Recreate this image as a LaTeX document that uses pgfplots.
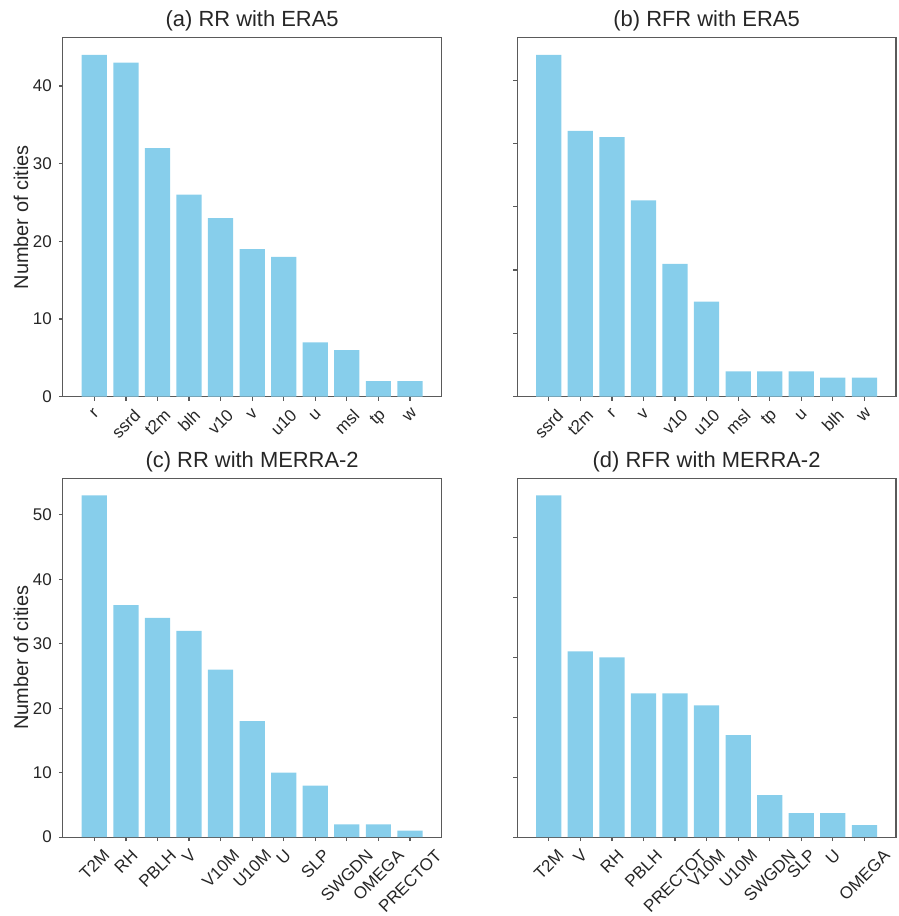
\documentclass[border=0pt]{standalone}
\usepackage{fontspec}
\setmainfont{Liberation Sans}
\usepackage{pgfplots}
\pgfplotsset{compat=1.18}
\definecolor{sky}{RGB}{135,206,235}
\definecolor{spine}{RGB}{90,90,90}
\newcommand{\rl}[1]{\rotatebox{45}{#1}}
\pgfplotsset{
 every axis title shift=0pt,
 panel/.style={
  width=190pt,height=180pt,scale only axis,
  anchor=south west,
  ybar, bar width=0.8,
  xmin=-1,xmax=11, ymin=0,
  xtick={0,...,10},
  ytick={0,10,...,50},
  axis line style={spine, line width=0.6pt},
  tick style={spine, line width=0.6pt},
  tick align=outside, major tick length=2pt,
  xtick pos=left, ytick pos=left,
  tick label style={font=\fontsize{8.5}{10}\selectfont, text=black!85},
  /pgf/number format/assume math mode=true,
  xticklabel style={anchor=north, inner sep=1pt, yshift=-2.5pt},
  title style={font=\fontsize{11}{13}\selectfont, text=black!85, inner sep=0pt, yshift=3pt},
  ylabel style={font=\fontsize{10}{12}\selectfont, text=black!85, at={(axis description cs:-0.1105,0.5)}, anchor=center},
 },
 bars/.style={fill=sky, draw=none, bar shift=0pt}
}
\begin{document}
\begin{tikzpicture}
\path (0,0) rectangle (451pt,458pt);
% (a)
\begin{axis}[panel, at={(31.5pt,259pt)}, ymax=46.2,
  title={(a) RR with ERA5}, ylabel={Number of cities},
  xticklabels={\rl{r},\rl{ssrd},\rl{t2m},\rl{blh},\rl{v10},\rl{v},\rl{u10},\rl{u},\rl{msl},\rl{tp},\rl{w}}]
\addplot[bars] coordinates {(0,44) (1,43) (2,32) (3,26) (4,23) (5,19) (6,18) (7,7) (8,6) (9,2) (10,2)};
\end{axis}
% (b)
\begin{axis}[panel, at={(259.5pt,259pt)}, ymax=56.7,
  title={(b) RFR with ERA5}, yticklabels={},
  xticklabels={\rl{ssrd},\rl{t2m},\rl{r},\rl{v},\rl{v10},\rl{u10},\rl{msl},\rl{tp},\rl{u},\rl{blh},\rl{w}}]
\addplot[bars] coordinates {(0,54) (1,42) (2,41) (3,31) (4,21) (5,15) (6,4) (7,4) (8,4) (9,3) (10,3)};
\end{axis}
% (c)
\begin{axis}[panel, at={(31.5pt,38pt)}, ymax=55.65,
  title={(c) RR with MERRA-2}, ylabel={Number of cities},
  xticklabels={\rl{T2M},\rl{RH},\rl{PBLH},\rl{V},\rl{V10M},\rl{U10M},\rl{U},\rl{SLP},\rl{SWGDN},\rl{OMEGA},\rl{PRECTOT}}]
\addplot[bars] coordinates {(0,53) (1,36) (2,34) (3,32) (4,26) (5,18) (6,10) (7,8) (8,2) (9,2) (10,1)};
\end{axis}
% (d)
\begin{axis}[panel, at={(259.5pt,38pt)}, ymax=59.85,
  title={(d) RFR with MERRA-2}, yticklabels={},
  xticklabels={\rl{T2M},\rl{V},\rl{RH},\rl{PBLH},\rl{PRECTOT},\rl{V10M},\rl{U10M},\rl{SWGDN},\rl{SLP},\rl{U},\rl{OMEGA}}]
\addplot[bars] coordinates {(0,57) (1,31) (2,30) (3,24) (4,24) (5,22) (6,17) (7,7) (8,4) (9,4) (10,2)};
\end{axis}
\end{tikzpicture}
\end{document}
